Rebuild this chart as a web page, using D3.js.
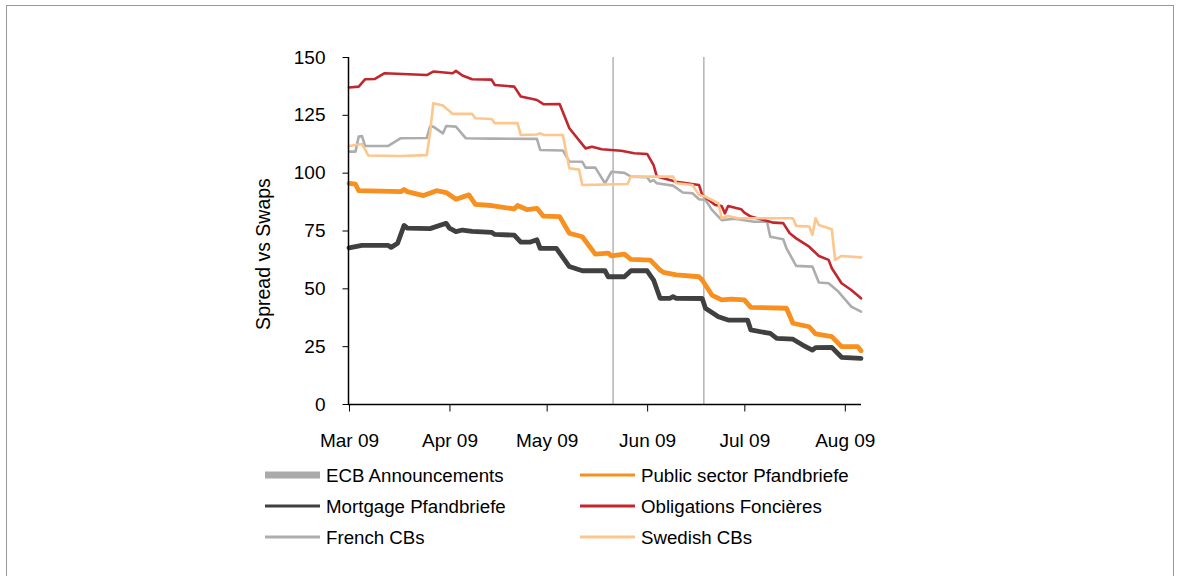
<!DOCTYPE html>
<html lang="en">
<head>
<meta charset="utf-8">
<title>Spread vs Swaps</title>
<script src="https://cdn.jsdelivr.net/npm/d3@7/dist/d3.min.js"></script>
<style>
  body { margin: 0; background: #fff; }
  text { font-family: "Liberation Sans", Arial, sans-serif; fill: #000; }
</style>
</head>
<body>
<script>
// ---- data ----
var monthTicks = ["2009-03-01", "2009-04-01", "2009-05-01", "2009-06-01", "2009-07-01", "2009-08-01"];
var yTicks = [0, 25, 50, 75, 100, 125, 150];
var ecbDates = ["2009-05-21 12", "2009-06-18 12"];

var publicSector = [
  ["2009-03-01", 95.4], ["2009-03-03", 95.0], ["2009-03-04", 92.2], ["2009-03-17", 91.8], ["2009-03-18", 92.7],
  ["2009-03-19", 91.8], ["2009-03-24", 90.1], ["2009-03-28", 92.2], ["2009-03-31", 91.4], ["2009-04-03", 88.5],
  ["2009-04-07", 90.4], ["2009-04-09", 86.3], ["2009-04-14", 85.8], ["2009-04-21", 84.3], ["2009-04-22", 85.8],
  ["2009-04-25", 84.0], ["2009-04-28", 84.6], ["2009-04-30", 81.2], ["2009-05-05", 81.0], ["2009-05-08", 73.8],
  ["2009-05-12", 72.3], ["2009-05-16", 64.8], ["2009-05-20", 65.2], ["2009-05-21", 64.0], ["2009-05-25", 64.8],
  ["2009-05-27", 62.5], ["2009-06-02", 62.2], ["2009-06-05", 57.9], ["2009-06-06", 56.9], ["2009-06-10", 55.8],
  ["2009-06-17", 55.0], ["2009-06-18", 53.6], ["2009-06-20", 49.3], ["2009-06-21", 47.1], ["2009-06-24", 45.0],
  ["2009-06-27", 45.3], ["2009-07-01", 45.0], ["2009-07-03", 41.8], ["2009-07-14", 41.4], ["2009-07-16", 34.9],
  ["2009-07-21", 33.4], ["2009-07-23", 30.3], ["2009-07-28", 29.1], ["2009-07-31", 24.8], ["2009-08-05", 24.8],
  ["2009-08-06", 23.0]
];

var mortgage = [
  ["2009-03-01", 67.5], ["2009-03-05", 68.6], ["2009-03-13", 68.6], ["2009-03-14", 67.7], ["2009-03-16", 69.5],
  ["2009-03-18", 77.2], ["2009-03-19", 76.0], ["2009-03-26", 75.8], ["2009-03-31", 78.1], ["2009-04-01", 76.0],
  ["2009-04-03", 74.5], ["2009-04-05", 75.2], ["2009-04-08", 74.6], ["2009-04-14", 74.2], ["2009-04-15", 73.3],
  ["2009-04-21", 73.0], ["2009-04-23", 70.0], ["2009-04-26", 70.0], ["2009-04-28", 71.0], ["2009-04-29", 67.3],
  ["2009-05-04", 67.3], ["2009-05-08", 59.4], ["2009-05-12", 57.6], ["2009-05-19", 57.6], ["2009-05-20", 55.0],
  ["2009-05-25", 55.0], ["2009-05-27", 57.6], ["2009-06-01", 57.6], ["2009-06-03", 53.6], ["2009-06-05", 45.7],
  ["2009-06-08", 45.7], ["2009-06-09", 46.4], ["2009-06-10", 45.7], ["2009-06-18", 45.6], ["2009-06-19", 41.4],
  ["2009-06-23", 37.7], ["2009-06-26", 36.3], ["2009-07-02", 36.3], ["2009-07-03", 32.0], ["2009-07-09", 30.5],
  ["2009-07-11", 28.4], ["2009-07-16", 28.0], ["2009-07-19", 25.5], ["2009-07-22", 23.3], ["2009-07-23", 24.4],
  ["2009-07-28", 24.5], ["2009-07-31", 20.2], ["2009-08-06", 19.7]
];

var obligations = [
  ["2009-03-01", 136.8], ["2009-03-04", 137.2], ["2009-03-06", 140.4], ["2009-03-09", 140.5], ["2009-03-12", 143.0],
  ["2009-03-25", 142.2], ["2009-03-27", 143.7], ["2009-04-02", 143.0], ["2009-04-03", 144.0], ["2009-04-05", 142.0],
  ["2009-04-08", 140.4], ["2009-04-14", 140.2], ["2009-04-15", 137.9], ["2009-04-21", 137.2], ["2009-04-23", 132.9],
  ["2009-04-27", 131.7], ["2009-04-28", 131.4], ["2009-04-30", 129.6], ["2009-05-05", 129.7], ["2009-05-08", 119.2],
  ["2009-05-13", 110.5], ["2009-05-15", 111.2], ["2009-05-18", 110.1], ["2009-05-24", 109.5], ["2009-05-28", 108.4],
  ["2009-06-01", 108.1], ["2009-06-03", 103.3], ["2009-06-04", 98.3], ["2009-06-10", 96.1], ["2009-06-17", 94.7],
  ["2009-06-18", 90.4], ["2009-06-22", 86.0], ["2009-06-24", 85.6], ["2009-06-25", 82.4], ["2009-06-26", 85.6],
  ["2009-06-30", 84.2], ["2009-07-01", 82.7], ["2009-07-03", 81.0], ["2009-07-07", 79.5], ["2009-07-10", 78.4],
  ["2009-07-13", 78.2], ["2009-07-15", 73.8], ["2009-07-17", 71.6], ["2009-07-21", 68.0], ["2009-07-24", 64.0],
  ["2009-07-27", 62.3], ["2009-07-28", 58.7], ["2009-07-31", 52.2], ["2009-08-03", 49.3], ["2009-08-06", 45.7]
];

var frenchCBs = [
  ["2009-03-01", 109.1], ["2009-03-03", 109.1], ["2009-03-04", 115.6], ["2009-03-05", 115.8], ["2009-03-06", 111.5],
  ["2009-03-13", 111.5], ["2009-03-17", 114.9], ["2009-03-25", 115.0], ["2009-03-26", 119.9], ["2009-03-27", 119.9],
  ["2009-03-30", 117.0], ["2009-03-31", 120.2], ["2009-04-03", 119.9], ["2009-04-06", 114.9], ["2009-04-14", 114.7],
  ["2009-04-28", 114.6], ["2009-04-29", 109.8], ["2009-05-06", 109.6], ["2009-05-08", 104.8], ["2009-05-12", 104.7],
  ["2009-05-13", 102.2], ["2009-05-16", 102.2], ["2009-05-19", 95.4], ["2009-05-21", 100.4], ["2009-05-25", 99.9],
  ["2009-05-27", 98.3], ["2009-06-01", 98.0], ["2009-06-02", 96.1], ["2009-06-03", 96.8], ["2009-06-04", 95.4],
  ["2009-06-09", 94.4], ["2009-06-12", 91.4], ["2009-06-15", 91.1], ["2009-06-17", 88.5], ["2009-06-19", 88.2],
  ["2009-06-21", 83.9], ["2009-06-24", 79.5], ["2009-06-28", 80.1], ["2009-07-04", 78.8], ["2009-07-08", 78.8],
  ["2009-07-09", 72.3], ["2009-07-13", 71.2], ["2009-07-14", 67.3], ["2009-07-17", 59.7], ["2009-07-22", 59.4],
  ["2009-07-24", 52.5], ["2009-07-27", 52.2], ["2009-07-30", 48.6], ["2009-08-03", 42.1], ["2009-08-06", 39.9]
];

var swedishCBs = [
  ["2009-03-01", 111.5], ["2009-03-05", 112.4], ["2009-03-07", 107.4], ["2009-03-17", 107.2], ["2009-03-25", 107.6],
  ["2009-03-26", 117.0], ["2009-03-27", 130.0], ["2009-03-30", 129.0], ["2009-04-02", 125.4], ["2009-04-08", 125.4],
  ["2009-04-09", 123.5], ["2009-04-14", 123.2], ["2009-04-15", 121.4], ["2009-04-22", 121.4], ["2009-04-23", 116.3],
  ["2009-04-28", 116.5], ["2009-04-29", 117.0], ["2009-04-30", 116.3], ["2009-05-06", 116.3], ["2009-05-08", 101.9],
  ["2009-05-11", 101.3], ["2009-05-12", 94.7], ["2009-05-26", 95.1], ["2009-05-27", 98.3], ["2009-06-09", 98.3],
  ["2009-06-10", 95.4], ["2009-06-15", 94.7], ["2009-06-17", 90.4], ["2009-06-19", 89.6], ["2009-06-23", 86.8],
  ["2009-06-24", 80.3], ["2009-06-26", 81.3], ["2009-06-29", 80.3], ["2009-07-16", 80.3], ["2009-07-17", 77.0],
  ["2009-07-21", 76.7], ["2009-07-22", 73.1], ["2009-07-23", 80.3], ["2009-07-24", 77.4], ["2009-07-28", 75.5],
  ["2009-07-29", 62.3], ["2009-07-31", 64.0], ["2009-08-06", 63.4]
];

var seriesNames = ["Public sector Pfandbriefe", "Mortgage Pfandbriefe", "Obligations Foncières", "French CBs", "Swedish CBs"];
var seriesData = [publicSector, mortgage, obligations, frenchCBs, swedishCBs];
var seriesColors = ["#f7901e", "#404040", "#c1272d", "#adadad", "#fcc68c"];
var seriesWidths = [4.8, 4.8, 2.6, 2.6, 2.6];
var drawOrder = [3, 2, 4, 1, 0];

// legend rows, left column then right column
var legendItems = [
  { name: "ECB Announcements", color: "#aaaaaa", width: 7 },
  { name: "Public sector Pfandbriefe", color: "#f7901e", width: 3 },
  { name: "Mortgage Pfandbriefe", color: "#404040", width: 3 },
  { name: "Obligations Foncières", color: "#c1272d", width: 3 },
  { name: "French CBs", color: "#adadad", width: 3 },
  { name: "Swedish CBs", color: "#fcc68c", width: 3 }
];

var W = 1179, H = 576;
var parse = d3.timeParse("%Y-%m-%d");
var parseH = d3.timeParse("%Y-%m-%d %H");

var svg = d3.select("body").append("svg")
  .attr("width", W)
  .attr("height", H);

// outer frame
svg.append("rect")
  .attr("x", 6.5).attr("y", 5.5)
  .attr("width", 1167).attr("height", 620)
  .attr("fill", "none")
  .attr("stroke", "#999")
  .attr("stroke-width", 1);

var x = d3.scaleTime()
  .domain([parse("2009-03-01"), parse("2009-08-06")])
  .range([349, 861]);
var y = d3.scaleLinear().domain([0, 150]).range([404, 57]);

// ECB announcement lines
svg.selectAll("line.ecb")
  .data(ecbDates)
  .enter().append("line")
  .attr("class", "ecb")
  .attr("x1", d => x(parseH(d))).attr("x2", d => x(parseH(d)))
  .attr("y1", y(150)).attr("y2", y(0))
  .attr("stroke", "#b4b4b4")
  .attr("stroke-width", 1.5);

var line = d3.line()
  .x(d => x(parse(d[0])))
  .y(d => y(d[1]));

drawOrder.forEach(function (i) {
  svg.append("path")
    .datum(seriesData[i])
    .attr("d", line)
    .attr("fill", "none")
    .attr("stroke", seriesColors[i])
    .attr("stroke-width", seriesWidths[i])
    .attr("stroke-linejoin", "round")
    .attr("stroke-linecap", "round");
});

// axes
var yAxis = svg.append("g")
  .attr("transform", "translate(348.5,0)")
  .call(d3.axisLeft(y).tickValues(yTicks).tickSize(6).tickPadding(17));
yAxis.selectAll("text").style("font-size", "19px");

var xAxis = svg.append("g")
  .attr("transform", "translate(0,404.5)")
  .call(d3.axisBottom(x)
    .tickValues(monthTicks.map(parse))
    .tickFormat(d3.timeFormat("%b %y"))
    .tickSize(7).tickPadding(22));
xAxis.selectAll("text").style("font-size", "19px");

[yAxis, xAxis].forEach(function (g) {
  g.selectAll(".domain").attr("stroke", "#000").attr("stroke-width", 1.5);
  g.selectAll(".tick line").attr("stroke", "#000").attr("stroke-width", 1);
  g.selectAll("text").attr("font-family", "Liberation Sans, Arial, sans-serif");
});
xAxis.select(".domain").attr("d", "M348,0H861");
yAxis.select(".domain").attr("d", "M0,57V404");

svg.append("text")
  .attr("transform", "translate(270,254) rotate(-90)")
  .attr("text-anchor", "middle")
  .style("font-size", "19.5px")
  .text("Spread vs Swaps");

// legend
var legend = svg.append("g");
legendItems.forEach(function (d, i) {
  var col = i % 2, row = Math.floor(i / 2);
  var lx = col === 0 ? 265 : 580;
  var ly = 475 + row * 31;
  legend.append("line")
    .attr("x1", lx).attr("x2", lx + 55)
    .attr("y1", ly).attr("y2", ly)
    .attr("stroke", d.color)
    .attr("stroke-width", d.width);
  legend.append("text")
    .attr("x", lx + 61).attr("y", ly)
    .attr("dy", "0.35em")
    .style("font-size", "18.7px")
    .text(d.name);
});
</script>
</body>
</html>
